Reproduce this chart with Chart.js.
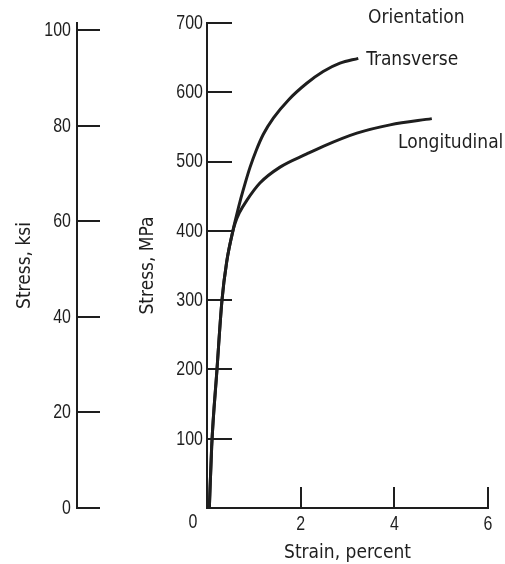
<!DOCTYPE html>
<html>
<head>
<meta charset="utf-8">
<script src="https://cdn.jsdelivr.net/npm/chart.js@4"></script>
<style>
  body { margin: 0; background: #fff; }
</style>
</head>
<body>
<canvas id="stressChart" width="505" height="564"></canvas>
<script>
// ==============================
// DATA
// ==============================
const transStrain = [0.05, 0.10, 0.21, 0.32, 0.42, 0.55, 0.63, 0.72, 0.82, 0.92, 1.05, 1.20, 1.42, 1.74, 2.13, 2.48, 2.84, 3.23];
const transStress = [0, 89, 197, 300, 355, 399, 422, 446, 470, 492, 516, 539, 563, 589, 613, 630, 642, 649];

const longStrain = [0.05, 0.10, 0.21, 0.32, 0.42, 0.55, 0.60, 0.69, 0.85, 1.13, 1.56, 2.13, 2.48, 3.20, 3.91, 4.80];
const longStress = [0, 89, 197, 300, 355, 399, 411, 426, 444, 469, 492, 511, 522, 541, 553, 562];

const strainTicks = [0, 2, 4, 6];
const mpaTicks = [0, 100, 200, 300, 400, 500, 600, 700];
const ksiTicks = [0, 20, 40, 60, 80, 100];

const curveNames = ["Transverse", "Longitudinal"];
const legendTitle = "Orientation";

// where the curve names sit, in data units (strain, MPa)
const notePlaces = [
  { text: legendTitle, strain: 3.44, stress: 707 },
  { text: curveNames[0], strain: 3.40, stress: 646 },
  { text: curveNames[1], strain: 4.08, stress: 527 }
];

const MPA_PER_KSI = 6.895;

// ==============================
// STYLE
// ==============================
const ink = "#1e1e1e";
const numFont = { family: "'Liberation Sans', Arimo, sans-serif", size: 21 };
const textFont = { family: "'DejaVu Sans Condensed', sans-serif", size: 19 };
const NUM_SQUEEZE = 0.76; // the figure uses a condensed face for numbers

function toPoints(xs, ys) {
  return xs.map((v, i) => ({ x: v, y: ys[i] }));
}

function fontString(f) {
  return f.size + "px " + f.family;
}

// drop the automatic label padding so the plot area follows layout.padding
function fixBox(s, key, size) {
  s[key] = size;
  s.paddingTop = 0;
  s.paddingBottom = 0;
  s.paddingLeft = 0;
  s.paddingRight = 0;
}

// no condensed face installed: squeeze the number labels with fillText's maxWidth
const canvas = document.getElementById("stressChart");
const ctx2d = canvas.getContext("2d");
const plainFillText = ctx2d.fillText;
ctx2d.fillText = function (text, x, y, maxWidth) {
  if (this.font.indexOf("Liberation Sans") !== -1) {
    const w = this.measureText(text).width * NUM_SQUEEZE;
    maxWidth = maxWidth === undefined ? w : Math.min(maxWidth, w);
  }
  if (maxWidth === undefined) return plainFillText.call(this, text, x, y);
  return plainFillText.call(this, text, x, y, maxWidth);
};

// curve names + the shared "0" at the origin
const notesPlugin = {
  id: "notes",
  afterDraw(chart) {
    const { ctx, scales } = chart;
    const x = scales.x, y = scales.y;
    ctx.save();
    ctx.fillStyle = ink;
    ctx.textBaseline = "middle";
    ctx.textAlign = "left";
    ctx.font = fontString(textFont);
    notePlaces.forEach(n => {
      ctx.fillText(n.text, x.getPixelForValue(n.strain), y.getPixelForValue(n.stress));
    });
    ctx.font = fontString(numFont);
    ctx.textAlign = "center";
    ctx.fillText(String(strainTicks[0]), x.getPixelForValue(strainTicks[0]) - 14, y.getPixelForValue(0) + 14);
    ctx.restore();
  }
};

new Chart(canvas, {
  type: "scatter",
  data: {
    datasets: [
      {
        label: curveNames[0],
        data: toPoints(transStrain, transStress),
        showLine: true,
        borderColor: ink,
        borderWidth: 3,
        pointRadius: 0,
        cubicInterpolationMode: "monotone"
      },
      {
        label: curveNames[1],
        data: toPoints(longStrain, longStress),
        showLine: true,
        borderColor: ink,
        borderWidth: 3,
        pointRadius: 0,
        cubicInterpolationMode: "monotone"
      }
    ]
  },
  options: {
    responsive: false,
    animation: false,
    layout: { padding: { top: 23, right: 17, left: 0, bottom: 0 } },
    plugins: {
      legend: { display: false },
      tooltip: { enabled: false }
    },
    scales: {
      x: {
        type: "linear",
        position: "bottom",
        min: 0,
        max: 6,
        afterBuildTicks: s => { s.ticks = strainTicks.map(v => ({ value: v })); },
        afterFit: s => fixBox(s, "height", 56),
        ticks: {
          color: ink,
          font: numFont,
          padding: 25,
          callback: v => (v === 0 ? "" : String(v))
        },
        grid: { drawOnChartArea: false, tickLength: -21, color: ink, lineWidth: 2 },
        border: { color: ink, width: 2 },
        title: {
          display: true,
          text: "Strain, percent",
          color: ink,
          font: textFont,
          padding: { top: 0, bottom: 0 }
        }
      },
      y: {
        type: "linear",
        position: "left",
        weight: 0,
        min: 0,
        max: 700,
        afterBuildTicks: s => { s.ticks = mpaTicks.map(v => ({ value: v })); },
        afterFit: s => fixBox(s, "width", 130),
        ticks: {
          color: ink,
          font: numFont,
          padding: 29,
          callback: v => (v === 0 ? "" : String(v))
        },
        grid: { drawOnChartArea: false, tickLength: -25, color: ink, lineWidth: 2 },
        border: { color: ink, width: 2 },
        title: {
          display: true,
          text: "Stress, MPa",
          color: ink,
          font: textFont,
          padding: { top: 60, bottom: 0 }
        }
      },
      yKsi: {
        type: "linear",
        position: "left",
        weight: 1,
        min: 0,
        max: 700 / MPA_PER_KSI,
        afterBuildTicks: s => { s.ticks = ksiTicks.map(v => ({ value: v })); },
        afterFit: s => fixBox(s, "width", 77),
        ticks: {
          color: ink,
          font: numFont,
          padding: 29
        },
        grid: { drawOnChartArea: false, tickLength: -23, color: ink, lineWidth: 2 },
        border: { color: ink, width: 2 },
        title: {
          display: true,
          text: "Stress, ksi",
          color: ink,
          font: textFont,
          padding: { top: 14, bottom: 0 }
        }
      }
    }
  },
  plugins: [notesPlugin]
});
</script>
</body>
</html>
